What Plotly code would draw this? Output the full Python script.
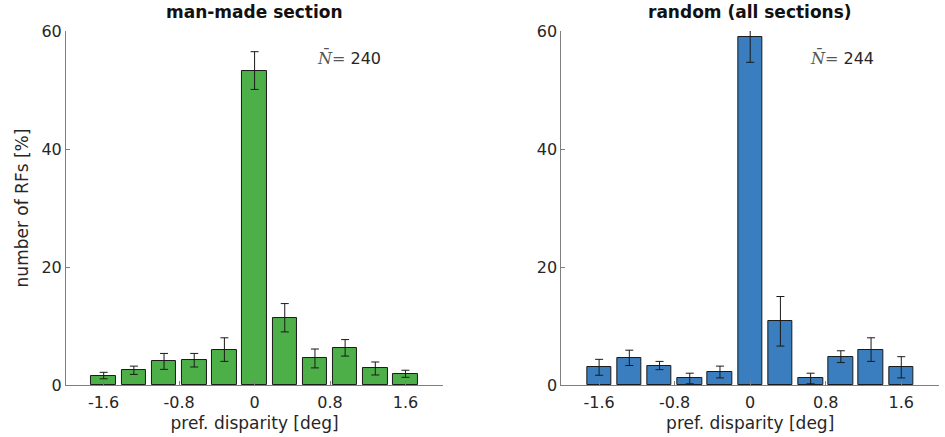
import plotly.graph_objects as go

# disparity bin centres (deg)
disparity = [-1.6, -1.28, -0.96, -0.64, -0.32, 0.0, 0.32, 0.64, 0.96, 1.28, 1.6]

# man-made section: percentage of RFs per bin and error
manmade_pct = [1.6, 2.5, 4.0, 4.2, 6.0, 53.3, 11.4, 4.5, 6.3, 2.8, 1.9]
manmade_err = [0.55, 0.7, 1.35, 1.15, 2.0, 3.2, 2.4, 1.6, 1.4, 1.1, 0.6]

# random (all sections)
random_pct = [3.0, 4.6, 3.3, 1.1, 2.2, 59.0, 10.8, 1.1, 4.8, 6.0, 3.0]
random_err = [1.35, 1.3, 0.7, 0.9, 1.0, 4.3, 4.2, 0.9, 1.0, 2.0, 1.8]

tick_vals = [-1.6, -0.8, 0, 0.8, 1.6]
tick_text = ["-1.6", "-0.8", "0", "0.8", "1.6"]
y_ticks = [0, 20, 40, 60]

titles = ["man-made section", "random (all sections)"]
n_labels = ["240", "244"]

GREEN = "#4caf48"
BLUE = "#3a7ebf"
AXIS = "#7f7f7f"
TEXT = "#262626"
FONT = "DejaVu Sans"

fig = go.Figure()

def add_panel(xax, yax, vals, errs, color):
    fig.add_trace(go.Bar(
        x=disparity, y=vals, xaxis=xax, yaxis=yax,
        width=0.26,
        marker=dict(color=color, line=dict(color="#1a1a1a", width=1)),
        error_y=dict(type="data", array=errs, visible=True,
                     color="#1a1a1a", thickness=1, width=4),
        showlegend=False, hoverinfo="skip",
    ))

add_panel("x", "y", manmade_pct, manmade_err, GREEN)
add_panel("x2", "y2", random_pct, random_err, BLUE)

common_x = dict(
    range=[-2, 2], tickvals=tick_vals, ticktext=tick_text,
    showline=True, linecolor=AXIS, linewidth=1,
    ticks="inside", ticklen=4, tickcolor=AXIS,
    showgrid=False, zeroline=False, automargin=False,
    ticklabelstandoff=3,
    tickfont=dict(family=FONT, size=16, color=TEXT),
    title=dict(text="pref. disparity [deg]", standoff=5,
               font=dict(family=FONT, size=17, color=TEXT)),
)
common_y = dict(
    range=[0, 60], tickvals=y_ticks,
    showline=True, linecolor=AXIS, linewidth=1,
    ticks="inside", ticklen=4, tickcolor=AXIS,
    showgrid=False, zeroline=False, automargin=False,
    tickfont=dict(family=FONT, size=16, color=TEXT),
)

fig.update_layout(
    width=945, height=437,
    margin=dict(l=0, r=0, t=0, b=0, autoexpand=False),
    paper_bgcolor="white", plot_bgcolor="white",
    bargap=0,
    xaxis=dict(domain=[0.0698, 0.469], anchor="y", **common_x),
    yaxis=dict(domain=[0.119, 0.929], anchor="x",
               title=dict(text="number of RFs [%]", standoff=8,
                          font=dict(family=FONT, size=17, color=TEXT)),
               **common_y),
    xaxis2=dict(domain=[0.594, 0.9937], anchor="y2", **common_x),
    yaxis2=dict(domain=[0.119, 0.929], anchor="x2", **common_y),
)

annotations = []
for i, (t, n) in enumerate(zip(titles, n_labels)):
    xref = "x" if i == 0 else "x2"
    annotations.append(dict(
        x=0, xref=xref, y=1 - 12 / 437, yref="paper", yanchor="middle",
        text=f"<b>{t}</b>", showarrow=False,
        font=dict(family=FONT, size=17, color="#111111"),
    ))
    annotations.append(dict(
        x=0.64 if i == 0 else 0.61, xref=xref, y=55.5, yref="y" if i == 0 else "y2",
        xanchor="left", yanchor="middle",
        text=f"<span style='font-family:DejaVu Serif;color:#555555'><i>N̄</i>=</span> {n}",
        showarrow=False,
        font=dict(family=FONT, size=16, color=TEXT),
    ))
fig.update_layout(annotations=annotations)

fig.write_html("out.html")
